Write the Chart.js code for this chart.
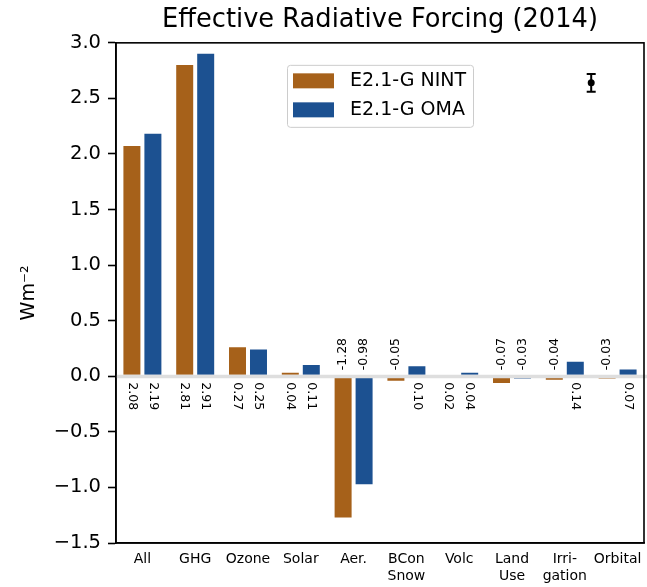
<!DOCTYPE html>
<html>
<head>
<meta charset="utf-8">
<script src="https://cdn.jsdelivr.net/npm/chart.js@4.4.1/dist/chart.umd.min.js"></script>
<style>
  html, body { margin: 0; padding: 0; background: #fff; }
</style>
</head>
<body>
<canvas id="erf" width="647" height="587"></canvas>
<script>
const categories = ['All', 'GHG', 'Ozone', 'Solar', 'Aer.', ['BCon', 'Snow'], 'Volc', ['Land', 'Use'], ['Irri-', 'gation'], 'Orbital'];
const nint = [2.08, 2.81, 0.27, 0.04, -1.28, -0.05, 0.02, -0.07, -0.04, -0.03];
const oma = [2.19, 2.91, 0.25, 0.11, -0.98, 0.10, 0.04, -0.03, 0.14, 0.07];
const yTicks = [-1.5, -1.0, -0.5, 0.0, 0.5, 1.0, 1.5, 2.0, 2.5, 3.0];

// sample uncertainty marker (x in category-index units)
const errX = [8.5];
const errY = [2.64];
const errSize = [0.08];

const FONT = 'DejaVu Sans';
const BROWN = '#a6611a';
const BLUE = '#1c5191';

function fmtTick(v) {
	return v < 0 ? '\u2212' + Math.abs(v).toFixed(1) : v.toFixed(1);
}

// light grey line at y = 0 plus the box around the plot
const zeroLine = {
	id: 'zeroLine',
	afterDatasetsDraw(chart) {
		const ctx = chart.ctx;
		const area = chart.chartArea;
		const y0 = chart.scales.y.getPixelForValue(0);
		ctx.save();
		ctx.strokeStyle = '#dedede';
		ctx.lineWidth = 3.5;
		ctx.beginPath();
		ctx.moveTo(area.left, y0 + 0.3);
		ctx.lineTo(area.right + 3, y0 + 0.3);
		ctx.stroke();
		ctx.strokeStyle = '#000';
		ctx.lineWidth = 1.6;
		ctx.strokeRect(area.left, area.top, area.right - area.left, area.bottom - area.top);
		ctx.restore();
	}
};

// rotated value labels next to the zero line
const valueLabels = {
	id: 'valueLabels',
	afterDatasetsDraw(chart) {
		const ctx = chart.ctx;
		const y0 = chart.scales.y.getPixelForValue(0);
		ctx.save();
		ctx.font = '12.5px "' + FONT + '"';
		ctx.fillStyle = '#000';
		ctx.textAlign = 'left';
		ctx.textBaseline = 'middle';
		chart.data.datasets.forEach((ds, i) => {
			const meta = chart.getDatasetMeta(i);
			meta.data.forEach((bar, j) => {
				const v = ds.data[j];
				ctx.save();
				if (v >= 0) {
					ctx.translate(bar.x, y0 + 6);
					ctx.rotate(Math.PI / 2);
				} else {
					ctx.translate(bar.x, y0 - 6);
					ctx.rotate(-Math.PI / 2);
				}
				ctx.fillText(v.toFixed(2), 0, 0);
				ctx.restore();
			});
		});
		ctx.restore();
	}
};

// dot with whiskers placed through the x / y scales
const errorBars = {
	id: 'errorBars',
	afterDatasetsDraw(chart) {
		const ctx = chart.ctx;
		const xs = chart.scales.x;
		const ys = chart.scales.y;
		ctx.save();
		ctx.strokeStyle = '#000';
		ctx.fillStyle = '#000';
		ctx.lineWidth = 2;
		errX.forEach((xv, i) => {
			const px = xs.getPixelForValue(xv);
			const py = ys.getPixelForValue(errY[i]);
			const yTop = ys.getPixelForValue(errY[i] + errSize[i]);
			const yBot = ys.getPixelForValue(errY[i] - errSize[i]);
			ctx.beginPath();
			ctx.moveTo(px, yTop);
			ctx.lineTo(px, yBot);
			ctx.moveTo(px - 4.5, yTop);
			ctx.lineTo(px + 4.5, yTop);
			ctx.moveTo(px - 4.5, yBot);
			ctx.lineTo(px + 4.5, yBot);
			ctx.stroke();
			ctx.beginPath();
			ctx.arc(px, py, 3.5, 0, Math.PI * 2);
			ctx.fill();
		});
		ctx.restore();
	}
};

// legend box inside the plot, upper middle
const boxLegend = {
	id: 'boxLegend',
	afterDraw(chart) {
		const ctx = chart.ctx;
		const area = chart.chartArea;
		const x = area.left + 171, y = area.top + 22, w = 186, h = 62;
		ctx.save();
		ctx.fillStyle = 'rgba(255,255,255,0.8)';
		ctx.strokeStyle = '#cccccc';
		ctx.lineWidth = 1;
		ctx.beginPath();
		ctx.roundRect(x + 0.5, y + 0.5, w, h, 3);
		ctx.fill();
		ctx.stroke();
		ctx.font = '19px "' + FONT + '"';
		ctx.textBaseline = 'middle';
		chart.data.datasets.forEach((ds, row) => {
			const cy = y + 16 + row * 29;
			ctx.fillStyle = ds.backgroundColor;
			ctx.fillRect(x + 6, cy - 7.5, 41, 15);
			ctx.fillStyle = '#000';
			ctx.fillText(ds.label, x + 63, cy);
		});
		ctx.restore();
	}
};

new Chart(document.getElementById('erf'), {
	type: 'bar',
	data: {
		labels: categories,
		datasets: [
			{
				label: 'E2.1-G NINT',
				data: nint,
				backgroundColor: BROWN,
				borderColor: 'rgba(255,255,255,0.85)',
				borderWidth: 1,
				borderSkipped: false
			},
			{
				label: 'E2.1-G OMA',
				data: oma,
				backgroundColor: BLUE,
				borderColor: 'rgba(255,255,255,0.85)',
				borderWidth: 1,
				borderSkipped: false
			}
		]
	},
	options: {
		responsive: false,
		animation: false,
		devicePixelRatio: 1,
		categoryPercentage: 0.795,
		barPercentage: 0.905,
		layout: { padding: { left: 0, right: 3, top: 0, bottom: 0 } },
		plugins: {
			legend: { display: false },
			tooltip: { enabled: false },
			title: {
				display: true,
				fullSize: false,
				text: 'Effective Radiative Forcing (2014)',
				color: '#000',
				font: { family: FONT, size: 25.7, weight: 'normal', lineHeight: 1.2 },
				padding: { top: 5, bottom: 7 }
			}
		},
		scales: {
			x: {
				offset: true,
				grid: { display: true, drawOnChartArea: false, drawTicks: false },
				border: { display: true, color: '#000', width: 1.6 },
				ticks: {
					color: '#000',
					font: { family: FONT, size: 14, lineHeight: 1.2 },
					padding: 8,
					maxRotation: 0,
					autoSkip: false
				},
				afterFit: s => {
					s.height = 44;
					s.paddingLeft = 0;
					s.paddingRight = 0;
				}
			},
			y: {
				min: -1.5,
				max: 3.0,
				afterBuildTicks: s => { s.ticks = yTicks.map(v => ({ value: v })); },
				grid: { drawOnChartArea: false, drawTicks: true, tickLength: 8, tickWidth: 1.6, tickColor: '#000' },
				border: { display: true, color: '#000', width: 1.6 },
				ticks: {
					color: '#000',
					font: { family: FONT, size: 19.5 },
					padding: 7,
					callback: v => fmtTick(v)
				},
				title: {
					display: true,
					text: 'Wm\u207B\u00B2',
					color: '#000',
					font: { family: FONT, size: 19 },
					padding: { top: 18, bottom: 0 }
				},
				afterFit: s => { s.width = 116; }
			}
		}
	},
	plugins: [zeroLine, valueLabels, errorBars, boxLegend]
});
</script>
</body>
</html>
